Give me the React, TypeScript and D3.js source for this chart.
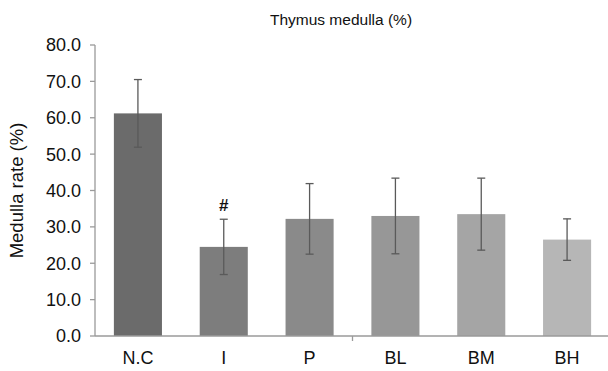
import * as d3 from "d3";
import React from "react";

const groups = ["N.C", "I", "P", "BL", "BM", "BH"];
const means = [61.2, 24.5, 32.2, 33.0, 33.5, 26.5];
const errors = [9.3, 7.6, 9.7, 10.4, 9.9, 5.7];
const barColors = ["#6b6b6b", "#7d7d7d", "#8a8a8a", "#979797", "#a5a5a5", "#b6b6b6"];
const marks = ["", "#", "", "", "", ""];
const yTicks = [0, 10, 20, 30, 40, 50, 60, 70, 80];

const W = 608;
const H = 371;
const margin = { top: 45, right: 0, bottom: 35, left: 95 };
const font = "'Liberation Sans', Arial, sans-serif";

const App = () => {
  const x = d3
    .scaleBand()
    .domain(groups)
    .range([margin.left, 610])
    .paddingInner(0.44)
    .paddingOuter(0.22);

  const y = d3
    .scaleLinear()
    .domain([0, 80])
    .range([H - margin.bottom, margin.top]);

  const axisColor = "#9a9a9a";
  const y0 = y(0);

  return (
    <svg
      width={W}
      height={H}
      style={{ position: "absolute", left: 0, top: 0, background: "#fff" }}
      fontFamily={font}
    >
      {/* title */}
      <text x={341} y={25} textAnchor="middle" fontSize={15.5} fill="#111">
        Thymus medulla (%)
      </text>

      {/* y axis */}
      <line x1={margin.left} x2={margin.left} y1={y(80)} y2={y0} stroke={axisColor} strokeWidth={1.3} />
      {yTicks.map((t) => (
        <g key={t}>
          <line x1={margin.left - 5} x2={margin.left} y1={y(t)} y2={y(t)} stroke={axisColor} strokeWidth={1.3} />
          <text x={margin.left - 14} y={y(t)} dy="0.36em" textAnchor="end" fontSize={18} fill="#111">
            {t.toFixed(1)}
          </text>
        </g>
      ))}
      <text
        transform={`translate(23,${(y(80) + y0) / 2}) rotate(-90)`}
        textAnchor="middle"
        fontSize={18.5}
        fill="#111"
      >
        Medulla rate (%)
      </text>

      {/* bars */}
      {groups.map((g, i) => (
        <rect
          key={g}
          x={x(g)}
          y={y(means[i])}
          width={x.bandwidth()}
          height={y0 - y(means[i])}
          fill={barColors[i]}
        />
      ))}

      {/* error bars */}
      {groups.map((g, i) => {
        const cx = (x(g) as number) + x.bandwidth() / 2;
        const top = y(means[i] + errors[i]);
        const bot = y(means[i] - errors[i]);
        return (
          <g key={g} stroke="#5a5a5a" strokeWidth={1.3}>
            <line x1={cx} x2={cx} y1={top} y2={bot} />
            <line x1={cx - 4} x2={cx + 4} y1={top} y2={top} />
            <line x1={cx - 4} x2={cx + 4} y1={bot} y2={bot} />
          </g>
        );
      })}

      {/* significance marks */}
      {groups.map((g, i) =>
        marks[i] ? (
          <text
            key={g}
            x={(x(g) as number) + x.bandwidth() / 2}
            y={y(means[i] + errors[i]) - 8}
            textAnchor="middle"
            fontSize={17}
            fontWeight="bold"
            fill="#111"
          >
            {marks[i]}
          </text>
        ) : null
      )}

      {/* x axis */}
      <line x1={margin.left} x2={W} y1={y0} y2={y0} stroke={axisColor} strokeWidth={1.3} />
      <line
        x1={(x("BL") as number) - (x.step() * x.paddingInner()) / 2}
        x2={(x("BL") as number) - (x.step() * x.paddingInner()) / 2}
        y1={y0}
        y2={y0 + 5}
        stroke={axisColor}
        strokeWidth={1.3}
      />
      {groups.map((g) => (
        <text
          key={g}
          x={(x(g) as number) + x.bandwidth() / 2}
          y={y0 + 28}
          textAnchor="middle"
          fontSize={18}
          fill="#111"
        >
          {g}
        </text>
      ))}
    </svg>
  );
};

export default App;
